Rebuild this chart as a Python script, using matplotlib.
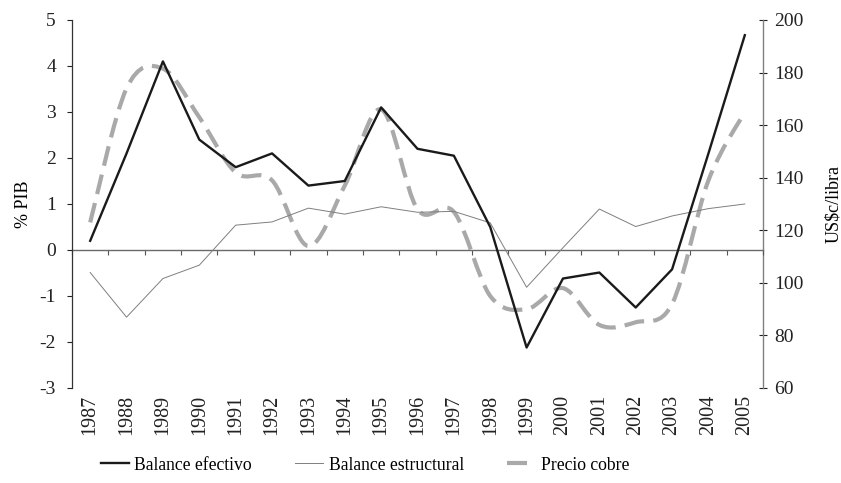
import matplotlib
matplotlib.use("Agg")
import matplotlib.pyplot as plt
from matplotlib.path import Path
from matplotlib.patches import PathPatch
from matplotlib.lines import Line2D
import numpy as np

plt.rcParams['font.family'] = ['Liberation Serif', 'DejaVu Serif']
plt.rcParams['font.size'] = 13
plt.rcParams['axes.unicode_minus'] = False

# datos
anios = [str(a) for a in range(1987, 2006)]
balance_efectivo = [0.2, 2.1, 4.1, 2.4, 1.8, 2.1, 1.4, 1.5, 3.1, 2.2, 2.05, 0.5,
                    -2.12, -0.62, -0.49, -1.25, -0.42, 2.1, 4.67]
balance_estructural = [-0.49, -1.46, -0.62, -0.33, 0.54, 0.61, 0.91, 0.78, 0.94, 0.82,
                       0.84, 0.59, -0.81, 0.05, 0.89, 0.51, 0.74, 0.9, 1.0]
precio_cobre = [123, 174, 181.5, 163, 142, 139, 114, 137, 166, 128, 127, 95,
                90, 98, 84, 85, 92, 139, 165]


def suavizado(xs, ys):
    # linea suavizada tipo Excel (bezier entre los puntos)
    n = len(xs)
    verts = [(xs[0], ys[0])]
    codes = [Path.MOVETO]
    for i in range(n - 1):
        a = i - 1 if i > 0 else i
        d = i + 2 if i + 2 < n else i + 1
        c1 = (xs[i] + (xs[i + 1] - xs[a]) / 6.0, ys[i] + (ys[i + 1] - ys[a]) / 6.0)
        c2 = (xs[i + 1] - (xs[d] - xs[i]) / 6.0, ys[i + 1] - (ys[d] - ys[i]) / 6.0)
        verts += [c1, c2, (xs[i + 1], ys[i + 1])]
        codes += [Path.CURVE4] * 3
    return Path(verts, codes)


x = np.arange(len(anios))

fig = plt.figure(figsize=(8.41, 4.83), dpi=100)
ax = fig.add_axes([72 / 841, 1 - 388 / 483, 691 / 841, 368 / 483])
ax2 = ax.twinx()

# precio del cobre (eje derecho)
camino = suavizado(list(x), precio_cobre)
ax2.add_patch(PathPatch(camino, fill=False, edgecolor='#a9a9a9', lw=3.0,
                        linestyle=(0, (4.8, 2.2)), capstyle='butt',
                        transform=ax2.transData))
ax2.set_ylim(60, 200)
ax2.set_yticks(range(60, 201, 20))
ax2.set_ylabel('US\\$c/libra', fontsize=13)
ax2.yaxis.set_label_coords(1.090, 0.5)
ax2.tick_params(axis='y', direction='inout', length=6, width=0.8, pad=5,
                colors='#222222', labelsize=14)
for s in ['left', 'top', 'bottom']:
    ax2.spines[s].set_visible(False)
ax2.spines['right'].set_color('#808080')
ax2.spines['right'].set_linewidth(1.0)

# balances (eje izquierdo)
ax.set_zorder(ax2.get_zorder() + 1)
ax.patch.set_visible(False)
ax.plot(x, balance_estructural, color='#7f7f7f', lw=0.7)
ax.plot(x, balance_efectivo, color='#1a1a1a', lw=1.7)
ax.set_xlim(-0.5, len(anios) - 0.5)
ax.set_ylim(-3, 5)
ax.set_yticks(range(-3, 6))
ax.set_ylabel('% PIB', fontsize=13)
ax.yaxis.set_label_coords(-0.058, 0.5)
ax.tick_params(axis='y', direction='out', length=3.6, width=0.8, pad=8,
               colors='#222222', labelsize=14)
ax.set_xticks(x)
ax.set_xticklabels(anios, rotation=90)
ax.tick_params(axis='x', length=0, pad=5, colors='#222222', labelsize=14.5)
for s in ['top', 'right', 'bottom']:
    ax.spines[s].set_visible(False)
ax.spines['left'].set_color('#333333')
ax.spines['left'].set_linewidth(0.9)

# eje horizontal en el cero con marcas entre categorias
eje0 = ax.secondary_xaxis(3 / 8)
eje0.set_xticks(np.arange(-0.5, len(anios), 1.0))
eje0.tick_params(axis='x', direction='out', length=3.6, width=0.8,
                 labelbottom=False, colors='#555555')
eje0.spines['bottom'].set_color('#6a6a6a')
eje0.spines['bottom'].set_linewidth(1.0)

# leyenda
manejadores = [Line2D([], [], color='#1a1a1a', lw=1.7),
               Line2D([], [], color='#7f7f7f', lw=0.7),
               Line2D([], [], color='#a9a9a9', lw=3.0, linestyle=(0, (4.8, 2.2)),
                      solid_capstyle='butt', dash_capstyle='butt')]
fig.legend(manejadores, ['Balance efectivo', 'Balance estructural', 'Precio cobre'],
           loc='center', bbox_to_anchor=(0.434, 0.037), ncol=3, frameon=False,
           handlelength=1.6, handletextpad=0.3, columnspacing=2.45, fontsize=12.7)

fig.savefig('out.png', dpi=100)
